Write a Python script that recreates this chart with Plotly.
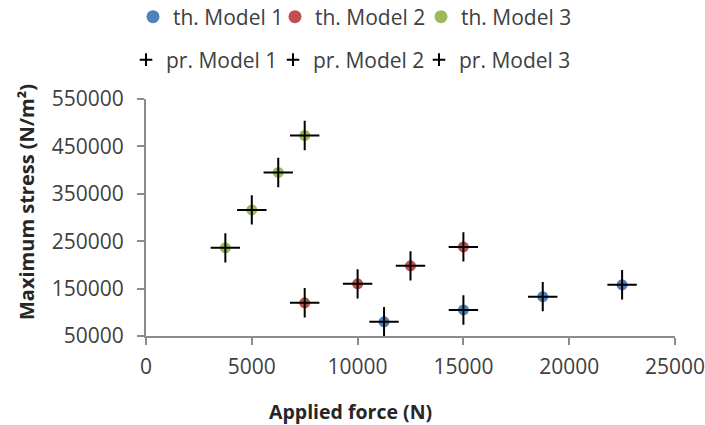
import plotly.graph_objects as go

# Data
force_m1 = [11250, 15000, 18750, 22500]
stress_th_m1 = [80000, 105000, 133000, 158000]
stress_pr_m1 = [80000, 105000, 133000, 158000]

force_m2 = [7500, 10000, 12500, 15000]
stress_th_m2 = [120000, 160000, 198000, 238000]
stress_pr_m2 = [120000, 160000, 198000, 238000]

force_m3 = [3750, 5000, 6250, 7500]
stress_th_m3 = [236000, 316000, 395000, 473000]
stress_pr_m3 = [236000, 316000, 395000, 473000]

th_names = ["th. Model 1", "th. Model 2", "th. Model 3"]
pr_names = ["pr. Model 1", "pr. Model 2", "pr. Model 3"]
colors = ["#4F81BD", "#C0504D", "#9BBB59"]

FONT = "Open Sans"
TXT = "#404040"

W, H = 705, 425
ML, MR, MT, MB = 146, 30, 99, 89

fig = go.Figure()

forces = [force_m1, force_m2, force_m3]
th_vals = [stress_th_m1, stress_th_m2, stress_th_m3]
pr_vals = [stress_pr_m1, stress_pr_m2, stress_pr_m3]

# theoretical points (coloured dots)
for i in range(3):
    fig.add_trace(go.Scatter(
        x=forces[i], y=th_vals[i], mode="markers", name=th_names[i],
        marker=dict(symbol="circle", size=11, color=colors[i]),
        showlegend=False, cliponaxis=False))
# predicted points (black crosses)
for i in range(3):
    fig.add_trace(go.Scatter(
        x=forces[i], y=pr_vals[i], mode="markers", name=pr_names[i],
        marker=dict(symbol="cross-thin", size=21,
                    line=dict(color="black", width=2)),
        showlegend=False, cliponaxis=False))

# legend entries (one legend per entry, placed like the reference)
leg_pos = [(133, 17), (275, 17), (421, 17), (126, 60), (273, 60), (419, 60)]
layout_legends = {}
for k in range(6):
    key = "legend" if k == 0 else f"legend{k+1}"
    if k < 3:
        marker = dict(symbol="circle", size=13, color=colors[k])
        nm = th_names[k]
    else:
        marker = dict(symbol="cross-thin", size=9,
                      line=dict(color="black", width=2))
        nm = pr_names[k - 3]
    fig.add_trace(go.Scatter(x=[None], y=[None], mode="markers", name=nm,
                             marker=marker, showlegend=True, legend=key))
    px, py = leg_pos[k]
    layout_legends[key] = dict(
        x=px / W, y=1 - py / H, xref="container", yref="container",
        xanchor="left", yanchor="middle", orientation="h",
        bgcolor="rgba(0,0,0,0)", borderwidth=0,
        font=dict(family=FONT, size=21, color=TXT),
        itemsizing="trace")

pw = W - ML - MR
ph = H - MT - MB

axis_common = dict(
    showgrid=False, zeroline=False, showline=True, automargin=False,
    linecolor="#8c8c8c", linewidth=2, ticks="outside",
    ticklen=7, tickwidth=2, tickcolor="#8c8c8c", tickformat="d",
    ticklabeloverflow="allow",
    tickfont=dict(family=FONT, size=21, color=TXT))

fig.update_layout(
    width=W, height=H,
    margin=dict(l=ML, r=MR, t=MT, b=MB, autoexpand=False),
    paper_bgcolor="white", plot_bgcolor="white",
    font=dict(family=FONT, size=21, color=TXT),
    xaxis=dict(range=[0, 25000], tickmode="linear", tick0=0, dtick=5000,
               ticklabelstandoff=4, **axis_common),
    yaxis=dict(range=[50000, 550000], tickmode="linear", tick0=50000,
               dtick=100000, ticklabelstandoff=9, **axis_common),
    annotations=[
        dict(text="<b>Applied force (N)</b>", xref="paper", yref="paper",
             x=(350.5 - ML) / pw, y=(MT + ph - 411) / ph,
             xanchor="center", yanchor="middle", showarrow=False,
             font=dict(family=FONT, size=19.5, color="#262626")),
        dict(text="<b>Maximum stress (N/m²)</b>", xref="paper",
             yref="paper", x=(26 - ML) / pw, y=(MT + ph - 202) / ph,
             xanchor="center", yanchor="middle", textangle=-90,
             showarrow=False,
             font=dict(family=FONT, size=20, color="#262626")),
    ],
    **layout_legends,
)

fig.write_html("out.html")
